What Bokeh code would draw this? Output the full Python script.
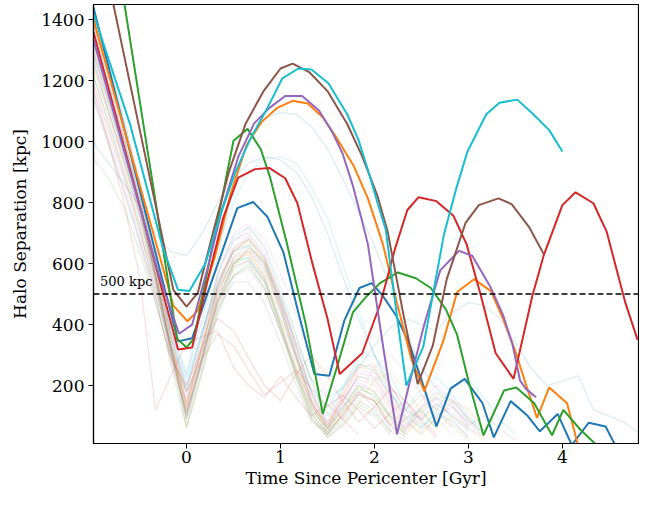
from bokeh.plotting import figure
from bokeh.models import Range1d, Span, Label, FixedTicker
from bokeh.embed import file_html
from bokeh.resources import INLINE

# ---------------- highlighted halos (time since pericenter [Gyr], separation [kpc])
blue_t = [-0.99, -0.6, -0.3, -0.09, 0.06, 0.22, 0.38, 0.54, 0.71, 0.86, 1.03, 1.19, 1.36, 1.52, 1.68,
          1.84, 1.97, 2.09, 2.23, 2.38, 2.52, 2.66, 2.81, 2.96, 3.15, 3.27, 3.45, 3.63, 3.76, 3.95,
          4.10, 4.28, 4.46, 4.57]
blue_r = [1440, 965, 600, 345, 355, 500, 640, 782, 802, 754, 638, 440, 238, 232, 414,
          520, 536, 494, 430, 330, 200, 66, 190, 222, 142, 30, 149, 101, 50, 107,
          5, 78, 66, 0]

orange_t = [-0.99, -0.6, -0.3, -0.14, 0.01, 0.12, 0.3, 0.47, 0.64, 0.8, 0.97, 1.13, 1.29, 1.45, 1.59,
            1.78, 1.93, 2.09, 2.24, 2.39, 2.53, 2.73, 2.88, 3.06, 3.24, 3.37, 3.50, 3.61, 3.73, 3.86,
            4.05, 4.17]
orange_r = [1400, 970, 640, 462, 411, 446, 620, 830, 990, 1065, 1112, 1134, 1125, 1080, 1016,
            920, 814, 664, 470, 290, 181, 344, 507, 549, 510, 418, 312, 206, 94, 194,
            142, 0]

green_t = [-0.99, -0.5, -0.1, 0.0, 0.08, 0.2, 0.34, 0.5, 0.65, 0.79, 0.89, 1.07, 1.27, 1.45, 1.61,
           1.77, 1.92, 2.06, 2.25, 2.44, 2.6, 2.76, 2.88, 3.0, 3.16, 3.38, 3.51, 3.70, 3.89, 4.01,
           4.19, 4.38]
green_r = [2096, 1137, 354, 325, 354, 540, 756, 1003, 1042, 975, 882, 664, 400, 107, 270,
           440, 494, 536, 571, 552, 520, 450, 366, 216, 37, 184, 194, 142, 37, 120,
           56, 0]

red_t = [-0.99, -0.6, -0.3, -0.09, 0.06, 0.22, 0.39, 0.55, 0.73, 0.88, 1.05, 1.18, 1.34, 1.5, 1.63,
         1.87, 2.06, 2.22, 2.35, 2.47, 2.66, 2.84, 2.98, 3.13, 3.29, 3.48, 3.68, 3.80, 4.0, 4.14,
         4.33, 4.47, 4.67, 4.80]
red_r = [1360, 908, 561, 318, 325, 540, 750, 882, 910, 914, 880, 798, 600, 420, 238,
         306, 466, 650, 776, 818, 805, 757, 664, 498, 306, 222, 494, 626, 792, 834,
         798, 706, 472, 350]

purple_t = [-0.99, -0.6, -0.3, -0.08, 0.06, 0.22, 0.38, 0.55, 0.72, 0.88, 1.05, 1.23, 1.41, 1.55, 1.66,
            1.77, 1.86, 1.93, 2.08, 2.24, 2.39, 2.53, 2.7, 2.9, 3.04, 3.23, 3.37, 3.47, 3.55, 3.61,
            3.72]
purple_r = [1335, 900, 570, 370, 400, 580, 780, 950, 1060, 1110, 1150, 1150, 1102, 1032, 962,
            856, 750, 664, 352, 40, 230, 400, 578, 642, 626, 526, 430, 334, 216, 190,
            162]

brown_t = [-0.99, -0.5, -0.14, 0.0, 0.12, 0.28, 0.45, 0.63, 0.82, 1.0, 1.13, 1.31, 1.5, 1.71, 1.87,
           2.03, 2.14, 2.3, 2.46, 2.62, 2.77, 2.97, 3.11, 3.32, 3.46, 3.65, 3.80]
brown_r = [1760, 1042, 514, 459, 504, 700, 900, 1060, 1166, 1240, 1256, 1227, 1166, 1058, 952,
           824, 706, 446, 205, 330, 550, 734, 792, 814, 795, 718, 632]

cyan_t = [-0.99, -0.6, -0.25, -0.09, 0.03, 0.2, 0.36, 0.52, 0.68, 0.86, 1.02, 1.19, 1.33, 1.51, 1.71,
          1.83, 1.94, 2.04, 2.12, 2.23, 2.34, 2.52, 2.74, 2.87, 2.99, 3.19, 3.33, 3.52, 3.69, 3.86,
          4.0]
cyan_r = [1420, 1056, 650, 514, 510, 600, 760, 900, 1010, 1110, 1208, 1240, 1237, 1192, 1090,
          1006, 898, 792, 712, 450, 200, 328, 696, 846, 968, 1090, 1128, 1138, 1090, 1038,
          968]

# ---------------- background halos, sampled on a common time grid
faint_t = [-1.0, -0.83, -0.66, -0.5, -0.33, -0.17, 0.0, 0.17, 0.33, 0.5, 0.66, 0.83, 1.0, 1.17, 1.33,
           1.5, 1.66, 1.83, 2.0, 2.17, 2.33, 2.5, 2.66, 2.83, 3.0, 3.17, 3.33, 3.5, 3.66, 3.83,
           4.0, 4.17, 4.33, 4.5, 4.66, 4.83]
faint_01 = [1420, 1250, 1060, 870, 620, 380, 230, 420, 620, 860, 1000, 1080, 1095, 1090, 1050,
            975, 880, 770, 660, 520, 380, 260, 190, 150, 90, 40]
faint_02 = [1300, 1130, 960, 790, 560, 330, 120, 300, 500, 620, 640, 560, 400, 230, 90, 40, 110, 170,
            150, 80, 40, 90, 130, 70, 20]
faint_03 = [950, 880, 780, 640, 470, 300, 180, 310, 480, 560, 600, 520, 380, 240, 120, 60, 130, 200,
            160, 100, 40]
faint_04 = [1180, 1000, 790, 560, 120, 230, 340, 360, 380, 260, 200, 160, 230, 160, 100, 140, 90, 40]
faint_05 = [1350, 1170, 990, 800, 580, 350, 140, 330, 520, 650, 690, 620, 470, 300, 150, 60, 120, 210,
            180, 100, 60, 130, 160, 90, 30]
faint_06 = [1390, 1200, 1010, 810, 570, 320, 90, 280, 470, 600, 650, 590, 450, 290, 140, 50, 100, 180,
            150, 60]
faint_07 = [1320, 1150, 980, 800, 590, 370, 160, 340, 530, 670, 720, 650, 500, 330, 180, 70, 150, 220,
            200, 120, 50, 100, 140, 110, 60, 30]
faint_08 = [1280, 1100, 930, 760, 540, 300, 70, 260, 450, 580, 610, 540, 400, 250, 110, 40, 90, 150,
            120, 50, 20]
faint_09 = [1260, 1100, 940, 770, 560, 340, 150, 350, 540, 640, 680, 610, 470, 320, 170, 60, 150, 230,
            210, 130, 50, 120, 170, 150, 90, 40]
faint_10 = [1440, 1260, 1070, 860, 620, 400, 240, 450, 660, 800, 900, 945, 950, 930, 850,
            750, 600, 450, 300, 180, 100, 60, 110, 80, 30]
faint_11 = [1000, 930, 860, 790, 700, 640, 626, 700, 800, 880, 930, 950, 940, 900, 820,
            700, 560, 420, 300, 200, 120, 90, 140, 100, 50]
faint_12 = [1420, 1240, 1050, 850, 610, 360, 130, 330, 530, 650, 680, 610, 460, 300, 150, 60, 160, 260,
            250, 160, 80, 40]
faint_13 = [1230, 1060, 890, 720, 500, 270, 60, 250, 430, 560, 590, 520, 380, 220, 90, 30, 80, 140,
            110, 50, 90, 120, 60]
faint_14 = [1200, 1040, 880, 710, 520, 330, 180, 290, 370, 330, 250, 170, 210, 250, 190, 130, 170, 120,
            60, 110, 150, 90, 40]
faint_15 = [1300, 1130, 950, 770, 550, 310, 100, 300, 500, 620, 660, 600, 460, 300, 150, 60, 140, 240,
            230, 150, 70, 130, 180, 140, 70, 100, 60, 20]
faint_16 = [1340, 1160, 980, 790, 560, 320, 110, 290, 470, 590, 610, 540, 390, 230, 100, 30, 70, 130,
            100, 40]
faint_17 = [1180, 1020, 860, 690, 490, 280, 120, 300, 470, 560, 580, 510, 380, 250, 140, 80, 160, 250,
            240, 170, 90, 150, 200, 160, 90, 40]
faint_18 = [1400, 1220, 1030, 830, 600, 370, 180, 370, 560, 680, 700, 630, 490, 330, 180, 80, 180, 270,
            260, 180, 90, 40, 100, 130, 80, 30]
faint_19 = [1360, 1180, 1000, 810, 580, 340, 120, 320, 520, 640, 670, 600, 450, 290, 140, 50, 120, 200,
            180, 100, 50]
faint_20 = [1290, 1120, 950, 780, 570, 360, 190, 380, 570, 690, 720, 660, 520, 360, 210, 100, 190, 290,
            300, 230, 140, 60, 120, 200, 220, 160, 90, 40]
faint_21 = [1350, 1180, 1000, 820, 600, 380, 200, 380, 540, 640, 660, 600, 480, 340, 220,
            160, 190, 260, 330, 390, 420, 400, 380, 440, 472, 462, 420, 340, 260, 200,
            215, 232, 120, 100, 80, 40]
faint_22 = [1250, 1090, 920, 750, 540, 320, 140, 330, 510, 610, 630, 560, 410, 260, 130, 70, 170, 260,
            270, 200, 120, 50, 90, 150, 120, 60]
faint_23 = [1330, 1150, 970, 790, 560, 330, 100, 300, 490, 600, 620, 550, 400, 240, 110, 40, 110, 190,
            170, 90, 40]
faint_24 = [1150, 990, 830, 670, 480, 290, 200, 330, 420, 380, 290, 200, 150, 240, 300, 230, 150, 80,
            130, 190, 150, 80, 30]
faint_25 = [1270, 1100, 930, 760, 550, 330, 130, 330, 520, 640, 680, 620, 480, 320, 170, 70, 150, 230,
            220, 140, 60, 110, 160, 130, 60]
faint_26 = [1310, 1140, 960, 780, 560, 330, 90, 290, 480, 600, 640, 580, 440, 280, 130, 40, 100, 170,
            150, 70, 30]
faint_27 = [1370, 1190, 1000, 800, 570, 330, 150, 360, 560, 700, 730, 680, 570, 430, 290, 170, 90, 170,
            260, 300, 250, 170, 90, 40]
faint_28 = [1220, 1070, 900, 730, 530, 300, 110, 280, 450, 540, 540, 470, 340, 200, 80, 50, 130, 180,
            130, 70, 120, 170, 120, 60]
faint_29 = [1410, 1230, 1040, 840, 600, 350, 60, 240, 440, 590, 650, 610, 500, 360, 220, 110, 60, 140,
            220, 240, 190, 110, 60, 100, 60, 20]
faint_30 = [1160, 1000, 840, 680, 500, 330, 220, 380, 520, 610, 620, 550, 420, 290, 180, 130, 200, 270,
            250, 170, 120, 190, 230, 170, 100, 50]

faint_lines = [faint_01, faint_02, faint_03, faint_04, faint_05, faint_06, faint_07, faint_08, faint_09,
               faint_10, faint_11, faint_12, faint_13, faint_14, faint_15, faint_16, faint_17, faint_18,
               faint_19, faint_20, faint_21, faint_22, faint_23, faint_24, faint_25, faint_26, faint_27,
               faint_28, faint_29, faint_30]

threshold_kpc = 500

tab10 = ['#1f77b4', '#ff7f0e', '#2ca02c', '#d62728', '#9467bd',
         '#8c564b', '#e377c2', '#7f7f7f', '#bcbd22', '#17becf']

FONT = "DejaVu Serif"

p = figure(width=639, height=490, output_backend="svg", toolbar_location=None,
           x_range=Range1d(-0.99, 4.81), y_range=Range1d(10, 1450),
           min_border_left=93, min_border_right=1, min_border_top=4, min_border_bottom=30)

p.background_fill_color = "white"
p.border_fill_color = "white"
p.outline_line_color = "black"
p.outline_line_width = 1.2
p.outline_line_alpha = 1.0
p.xgrid.visible = False
p.ygrid.visible = False

for i, ys in enumerate(faint_lines):
    p.line(faint_t[:len(ys)], ys, line_color=tab10[i % 10], line_alpha=0.15, line_width=1.3)

bold = [(blue_t, blue_r, tab10[0]), (orange_t, orange_r, tab10[1]), (green_t, green_r, tab10[2]),
        (red_t, red_r, tab10[3]), (purple_t, purple_r, tab10[4]), (brown_t, brown_r, tab10[5]),
        (cyan_t, cyan_r, tab10[9])]
for xs, ys, c in bold:
    p.line(xs, ys, line_color=c, line_width=2)

p.add_layout(Span(location=threshold_kpc, dimension="width", line_color="black",
                  line_dash="6 3", line_width=1.5))
p.add_layout(Label(x=-0.92, y=threshold_kpc + 18, text="500 kpc", text_font=FONT,
                   text_font_size="13px", text_color="black"))

p.xaxis.ticker = FixedTicker(ticks=[0, 1, 2, 3, 4])
p.yaxis.ticker = FixedTicker(ticks=[200, 400, 600, 800, 1000, 1200, 1400])
p.xaxis.axis_label = "Time Since Pericenter [Gyr]"
p.yaxis.axis_label = "Halo Separation [kpc]"
for ax in (p.xaxis, p.yaxis):
    ax.axis_label_text_font = FONT
    ax.axis_label_text_font_size = "17px"
    ax.axis_label_text_font_style = "normal"
    ax.axis_label_text_color = "black"
    ax.major_label_text_font = FONT
    ax.major_label_text_font_size = "17px"
    ax.major_label_text_color = "black"
    ax.minor_tick_line_color = None
    ax.major_tick_in = 0
    ax.major_tick_out = 5
    ax.major_tick_line_color = "black"
    ax.axis_line_color = "black"
    ax.axis_line_width = 1.2
p.xaxis.major_label_standoff = 2
p.xaxis.axis_label_standoff = 2
p.yaxis.major_label_standoff = 4
p.yaxis.axis_label_standoff = 8

open("out.html", "w").write(file_html(p, INLINE))
